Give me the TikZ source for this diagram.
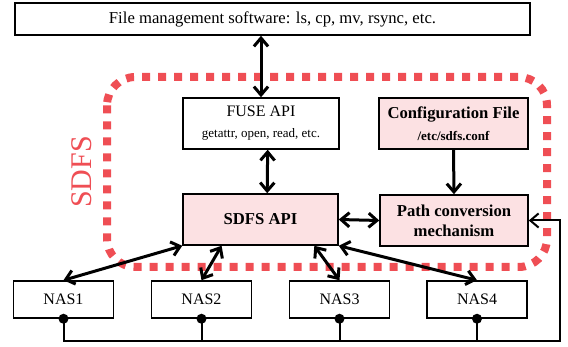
\documentclass[tikz,border=0pt]{standalone}
\usepackage{fontspec}
\setmainfont{Liberation Serif}
\usetikzlibrary{arrows.meta}
\definecolor{sdfsred}{RGB}{239,78,84}
\definecolor{sdfspink}{RGB}{252,225,227}

\begin{document}
\begin{tikzpicture}[x=0.6pt,y=-0.6pt,
    box/.style={draw,line width=0.9pt,inner sep=0pt,align=center,font=\fontsize{9.6}{11.5}\selectfont},
    pinkbox/.style={box,fill=sdfspink,font=\fontsize{10}{12}\selectfont\bfseries},
    nasbox/.style={box,minimum width=60pt,minimum height=22.2pt},
    link/.style={line width=1.8pt,{Straight Barb[length=5pt,width=8.5pt]}-{Straight Barb[length=5pt,width=8.5pt]}},
    onelink/.style={line width=1.8pt,-{Straight Barb[length=5pt,width=8.5pt]}},
    bus/.style={line width=1.2pt},
    busdot/.style={radius=3pt}]
    \useasboundingbox (0,0) rectangle (568,347);
    \draw[sdfsred,line width=4.8pt,dash pattern=on 4.8pt off 4.8pt,rounded corners=17pt] (107,77) rectangle (547,267);
    \node[sdfsred,rotate=90,font=\fontsize{18}{18}\selectfont] (sdfslabel) at (82,172) {SDFS};
    \node[box,minimum width=309pt,minimum height=19.2pt,font=\fontsize{10}{12}\selectfont] (top) at (272.5,19) {File management software: ls, cp, mv, rsync, etc.};
    \node[box,minimum width=93.6pt,minimum height=30.6pt] (fuse) at (261,123.5) {FUSE API\\[1pt]{\fontsize{7.8}{9}\selectfont getattr, open, read, etc.}};
    \node[pinkbox,minimum width=89.4pt,minimum height=30.6pt] (config) at (453.5,123.5) {Configuration File\\[1pt]{\fontsize{7.8}{9}\selectfont\bfseries /etc/sdfs.conf}};
    \node[pinkbox,minimum width=93pt,minimum height=30.6pt] (sdfs) at (260.5,219.5) {SDFS API};
    \node[pinkbox,minimum width=88.8pt,minimum height=30.6pt] (path) at (454,220.5) {Path conversion\\mechanism};
    \node[nasbox] (nas1) at (63.5,299.5) {NAS1};
    \node[nasbox] (nas2) at (201.5,299.5) {NAS2};
    \node[nasbox] (nas3) at (339.5,299.5) {NAS3};
    \node[nasbox] (nas4) at (477,299.5) {NAS4};
    \draw[link] (fuse.north |- top.south) -- (fuse.north);
    \draw[link] ([xshift=4pt]fuse.south) -- ([xshift=4pt]sdfs.north);
    \draw[onelink] (config.south) -- (path.north);
    \draw[link] (sdfs.east) -- (path.west);
    \draw[link] (sdfs.south west) -- (nas1.north);
    \draw[link] (sdfs.214) -- (nas2.north);
    \draw[link] (sdfs.-26) -- (nas3.north);
    \draw[link] (sdfs.south east) -- (nas4.north);
    \coordinate (busend) at (560,341);
    \draw[bus,-{Straight Barb[length=5pt,width=8.5pt]}] (nas1.south) |- (busend) |- (path.east);
    \draw[bus] (nas2.south) -- (nas2.south |- busend);
    \draw[bus] (nas3.south) -- (nas3.south |- busend);
    \draw[bus] (nas4.south) -- (nas4.south |- busend);
    \fill (nas1.south) circle[busdot];
    \fill (nas2.south) circle[busdot];
    \fill (nas3.south) circle[busdot];
    \fill (nas4.south) circle[busdot];
\end{tikzpicture}
\end{document}
